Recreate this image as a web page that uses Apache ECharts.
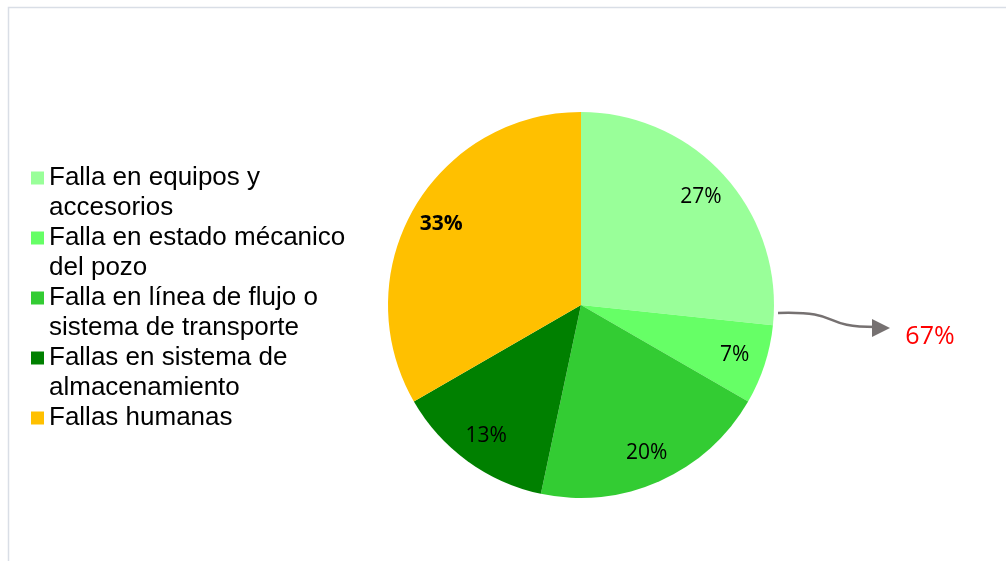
<!DOCTYPE html>
<html>
<head>
<meta charset="utf-8">
<script src="https://cdn.jsdelivr.net/npm/echarts@6/dist/echarts.min.js"></script>
<style>
  html, body { margin: 0; padding: 0; background: #fff; }
  #main { width: 1006px; height: 561px; }
</style>
</head>
<body>
<div id="main"></div>
<script>
// categories (full names) and how the legend wraps them
var names = [
  'Falla en equipos y accesorios',
  'Falla en estado mécanico del pozo',
  'Falla en línea de flujo o sistema de transporte',
  'Fallas en sistema de almacenamiento',
  'Fallas humanas'
];
var legendLines = [
  ['Falla en equipos y', 'accesorios'],
  ['Falla en estado mécanico', 'del pozo'],
  ['Falla en línea de flujo o', 'sistema de transporte'],
  ['Fallas en sistema de', 'almacenamiento'],
  ['Fallas humanas']
];
// counts (shares shown as 27%, 7%, 20%, 13%, 33%)
var counts = [4, 1, 3, 2, 5];
var colors = ['#99ff99', '#66ff66', '#33cc33', '#008000', '#ffc000'];
var boldIndex = 4;
var groupTotal = '67%';

var chart = echarts.init(document.getElementById('main'));

var mainData = names.map(function (n, i) {
  return { name: n, value: counts[i], itemStyle: { color: colors[i] } };
});
var labelData = names.map(function (n, i) {
  return {
    name: n,
    value: counts[i],
    label: { fontWeight: i === boldIndex ? 'bold' : 'normal' }
  };
});

var option = {
  backgroundColor: '#ffffff',
  animation: false,
  legend: {
    orient: 'vertical',
    left: 31,
    top: 133,
    padding: 0,
    itemGap: -30,
    itemWidth: 13,
    itemHeight: 13,
    icon: 'rect',
    selectedMode: false,
    data: names,
    formatter: function (name) {
      var lines = legendLines[names.indexOf(name)];
      return '\n' + lines.join('\n') + (lines.length === 1 ? '\n' : '');
    },
    textStyle: {
      fontFamily: 'Liberation Sans',
      fontSize: 26,
      lineHeight: 30,
      color: '#000'
    }
  },
  graphic: [
    {
      type: 'rect',
      shape: { x: 8.5, y: 7.5, width: 1100, height: 700 },
      style: { fill: 'none', stroke: '#d9dee6', lineWidth: 1.5 },
      silent: true
    },
    {
      type: 'bezierCurve',
      shape: { x1: 778, y1: 313, x2: 876, y2: 327, cpx1: 845, cpy1: 311, cpx2: 818, cpy2: 327 },
      style: { fill: 'none', stroke: '#767171', lineWidth: 2.5 },
      silent: true
    },
    {
      type: 'polygon',
      shape: { points: [[872, 319], [890, 328], [872, 337]] },
      style: { fill: '#767171' },
      silent: true
    },
    {
      type: 'text',
      x: 930,
      y: 337,
      style: {
        text: groupTotal,
        fill: '#ff0000',
        fontFamily: 'Open Sans',
        fontSize: 25,
        align: 'center',
        verticalAlign: 'middle'
      },
      silent: true
    }
  ],
  series: [
    {
      type: 'pie',
      center: [581, 305],
      radius: [0, 193],
      startAngle: 90,
      clockwise: true,
      label: { show: false },
      labelLine: { show: false },
      itemStyle: { borderWidth: 0 },
      emphasis: { disabled: true },
      data: mainData
    },
    {
      type: 'pie',
      center: [581, 305],
      radius: [124, 193],
      startAngle: 90,
      clockwise: true,
      silent: true,
      legendHoverLink: false,
      itemStyle: { color: 'rgba(0,0,0,0)', borderWidth: 0 },
      emphasis: { disabled: true },
      labelLine: { show: false },
      label: {
        show: true,
        position: 'inside',
        fontFamily: 'Open Sans',
        fontSize: 21,
        color: '#000',
        formatter: function (p) { return Math.round(p.percent) + '%'; }
      },
      data: labelData
    }
  ]
};

chart.setOption(option);
</script>
</body>
</html>
